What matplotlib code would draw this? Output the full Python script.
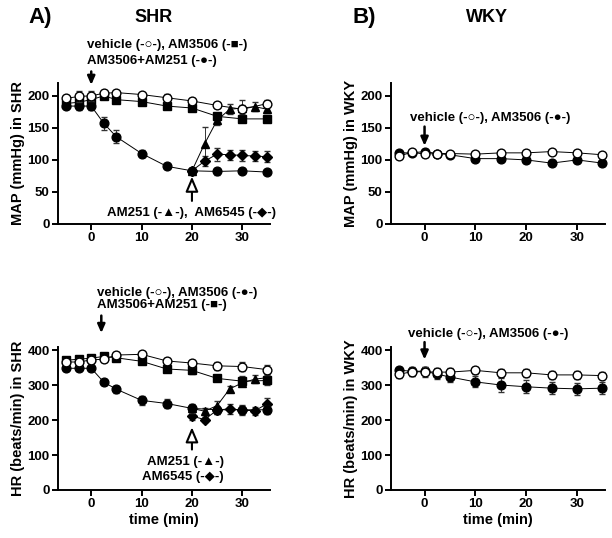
import numpy as np
import matplotlib
matplotlib.use("Agg")
import matplotlib.pyplot as plt

plt.rcParams['font.family'] = ['Liberation Sans', 'DejaVu Sans']
plt.rcParams['font.weight'] = 'bold'

# time points (min)
t_full = [-5, -2.5, 0, 2.5, 5, 10, 15, 20, 25, 30, 35]
t_rev = [20, 22.5, 25, 27.5, 30, 32.5, 35]

# ---- A) SHR, MAP ----
shr_map_veh = [196, 199, 200, 204, 205, 202, 197, 192, 185, 179, 188]
shr_map_veh_err = [4, 8, 8, 3, 3, 3, 6, 4, 4, 7, 5]
shr_map_am3506 = [188, 190, 194, 200, 194, 191, 184, 181, 168, 164, 164]
shr_map_am3506_err = [3, 3, 3, 3, 3, 3, 3, 3, 4, 3, 3]
shr_map_comb = [184, 184, 184, 157, 136, 110, 90, 83, 82, 83, 81]
shr_map_comb_err = [5, 6, 6, 10, 10, 6, 4, 4, 5, 4, 3]
shr_map_am251 = [83, 125, 162, 179, 181, 183, 179]
shr_map_am251_err = [4, 27, 8, 8, 12, 7, 6]
shr_map_am6545 = [83, 98, 109, 108, 107, 106, 105]
shr_map_am6545_err = [4, 8, 10, 8, 9, 8, 9]

# ---- A) SHR, HR ----
shr_hr_veh = [367, 367, 373, 375, 387, 389, 370, 364, 356, 354, 345]
shr_hr_veh_err = [10, 12, 12, 8, 8, 8, 8, 10, 12, 14, 14]
shr_hr_comb = [372, 375, 378, 383, 379, 369, 347, 343, 320, 312, 314]
shr_hr_comb_err = [8, 8, 8, 8, 8, 8, 8, 10, 8, 15, 12]
shr_hr_am3506 = [349, 349, 349, 309, 289, 257, 248, 234, 230, 230, 230]
shr_hr_am3506_err = [8, 8, 8, 8, 10, 12, 12, 12, 12, 15, 12]
shr_hr_am251 = [234, 226, 242, 290, 307, 318, 322]
shr_hr_am251_err = [10, 10, 12, 8, 10, 12, 10]
shr_hr_am6545 = [212, 202, 229, 233, 229, 227, 248]
shr_hr_am6545_err = [12, 8, 10, 15, 12, 12, 15]

# ---- B) WKY, MAP ----
wky_map_veh = [106, 112, 109, 110, 110, 109, 111, 111, 113, 111, 108]
wky_map_veh_err = [3, 3, 4, 3, 3, 3, 3, 3, 3, 3, 3]
wky_map_am3506 = [111, 111, 113, 110, 108, 102, 102, 100, 95, 100, 95]
wky_map_am3506_err = [3, 3, 4, 3, 4, 4, 4, 5, 5, 5, 4]

# ---- B) WKY, HR ----
wky_hr_veh = [332, 339, 339, 338, 338, 343, 336, 336, 330, 330, 328]
wky_hr_veh_err = [10, 12, 14, 12, 12, 10, 12, 12, 12, 12, 10]
wky_hr_am3506 = [344, 340, 341, 332, 324, 310, 301, 296, 292, 290, 292]
wky_hr_am3506_err = [10, 12, 12, 14, 14, 16, 20, 18, 18, 18, 18]

fig = plt.figure(figsize=(6.12, 5.38), dpi=100)
W, H = 612, 538


def make_ax(x0, y_top, x1, y_bot):
    return fig.add_axes([x0 / W, 1 - y_bot / H, (x1 - x0) / W, (y_bot - y_top) / H])


axA1 = make_ax(58, 83, 270, 224)
axA2 = make_ax(58, 347, 270, 490)
axB1 = make_ax(391, 83, 605, 224)
axB2 = make_ax(391, 347, 605, 490)


def series(ax, x, y, err, marker, filled, z, ms=6.3):
    ax.errorbar(x, y, yerr=err, color='black', lw=0.7, marker=marker, ms=ms,
                mfc='black' if filled else 'white', mec='black', mew=1.0,
                ecolor='#333333', elinewidth=0.7, capsize=2.5, capthick=0.7,
                zorder=z, clip_on=False)


def style(ax, ylim, yticks, ylabel, xlabel=None):
    ax.set_xlim(-6.6, 35.5)
    ax.set_ylim(*ylim)
    ax.set_xticks([0, 10, 20, 30])
    ax.set_yticks(yticks)
    for s in ['top', 'right']:
        ax.spines[s].set_visible(False)
    for s in ['left', 'bottom']:
        ax.spines[s].set_linewidth(1.4)
    ax.tick_params(width=1.4, length=4, labelsize=9.5, pad=2)
    for lab in ax.get_xticklabels() + ax.get_yticklabels():
        lab.set_fontweight('bold')
    ax.set_ylabel(ylabel, fontsize=10.5, fontweight='bold', labelpad=2)
    if xlabel:
        ax.set_xlabel(xlabel, fontsize=10.5, fontweight='bold', labelpad=2)


def down_arrow(ax, x, y0, y1):
    ax.annotate('', xy=(x, y1), xytext=(x, y0), annotation_clip=False,
                arrowprops=dict(arrowstyle='-|>,head_length=0.5,head_width=0.22',
                                fc='black', ec='black', lw=1.8,
                                shrinkA=0, shrinkB=0))


def up_open_arrow(ax, x, y0, y1):
    ax.annotate('', xy=(x, y1), xytext=(x, y0), annotation_clip=False,
                arrowprops=dict(arrowstyle='-|>,head_length=0.9,head_width=0.38',
                                fc='white', ec='black', lw=1.5,
                                shrinkA=0, shrinkB=0))


TF = dict(fontsize=9.5, fontweight='bold', clip_on=False)

# A top
series(axA1, t_full, shr_map_am3506, shr_map_am3506_err, 's', True, 3)
series(axA1, t_rev, shr_map_am251, shr_map_am251_err, '^', True, 3)
series(axA1, t_rev, shr_map_am6545, shr_map_am6545_err, 'D', True, 3, ms=4.8)
series(axA1, t_full, shr_map_comb, shr_map_comb_err, 'o', True, 4)
series(axA1, t_full, shr_map_veh, shr_map_veh_err, 'o', False, 5)
style(axA1, (0, 220), [0, 50, 100, 150, 200], 'MAP (mmHg) in SHR')
axA1.text(-0.8, 280, 'vehicle (-○-), AM3506 (-■-)', va='center', ha='left', **TF)
axA1.text(-0.8, 255, 'AM3506+AM251 (-●-)', va='center', ha='left', **TF)
down_arrow(axA1, 0, 238, 217)
up_open_arrow(axA1, 20, 36, 74)
axA1.text(3.2, 17, 'AM251 (-▲-),  AM6545 (-◆-)', va='center', ha='left', **TF)

# A bottom
series(axA2, t_full, shr_hr_comb, shr_hr_comb_err, 's', True, 3)
series(axA2, t_rev, shr_hr_am251, shr_hr_am251_err, '^', True, 3)
series(axA2, t_rev, shr_hr_am6545, shr_hr_am6545_err, 'D', True, 3, ms=4.8)
series(axA2, t_full, shr_hr_am3506, shr_hr_am3506_err, 'o', True, 4)
series(axA2, t_full, shr_hr_veh, shr_hr_veh_err, 'o', False, 5)
style(axA2, (0, 410), [0, 100, 200, 300, 400], 'HR (beats/min) in SHR', 'time (min)')
axA2.text(1.2, 566, 'vehicle (-○-), AM3506 (-●-)', va='center', ha='left', **TF)
axA2.text(1.2, 529, 'AM3506+AM251 (-■-)', va='center', ha='left', **TF)
down_arrow(axA2, 2, 500, 450)
up_open_arrow(axA2, 20, 116, 180)
axA2.text(26.3, 80, 'AM251 (-▲-)', va='center', ha='right', **TF)
axA2.text(26.3, 37, 'AM6545 (-◆-)', va='center', ha='right', **TF)

# B top
series(axB1, t_full, wky_map_am3506, wky_map_am3506_err, 'o', True, 4)
series(axB1, t_full, wky_map_veh, wky_map_veh_err, 'o', False, 5)
style(axB1, (0, 220), [0, 50, 100, 150, 200], 'MAP (mmHg) in WKY')
axB1.text(-2.9, 166, 'vehicle (-○-), AM3506 (-●-)', va='center', ha='left', **TF)
down_arrow(axB1, 0, 152, 122)

# B bottom
series(axB2, t_full, wky_hr_am3506, wky_hr_am3506_err, 'o', True, 4)
series(axB2, t_full, wky_hr_veh, wky_hr_veh_err, 'o', False, 5)
style(axB2, (0, 410), [0, 100, 200, 300, 400], 'HR (beats/min) in WKY', 'time (min)')
axB2.text(-3.3, 446, 'vehicle (-○-), AM3506 (-●-)', va='center', ha='left', **TF)
down_arrow(axB2, 0, 424, 374)

# panel headings
fig.text(28 / W, 1 - 17 / H, 'A)', fontsize=16, fontweight='bold', va='center', ha='left')
fig.text(154 / W, 1 - 18 / H, 'SHR', fontsize=13, fontweight='bold', va='center', ha='center')
fig.text(352 / W, 1 - 17 / H, 'B)', fontsize=16, fontweight='bold', va='center', ha='left')
fig.text(487 / W, 1 - 18 / H, 'WKY', fontsize=13, fontweight='bold', va='center', ha='center')

fig.savefig('out.png', dpi=100)
